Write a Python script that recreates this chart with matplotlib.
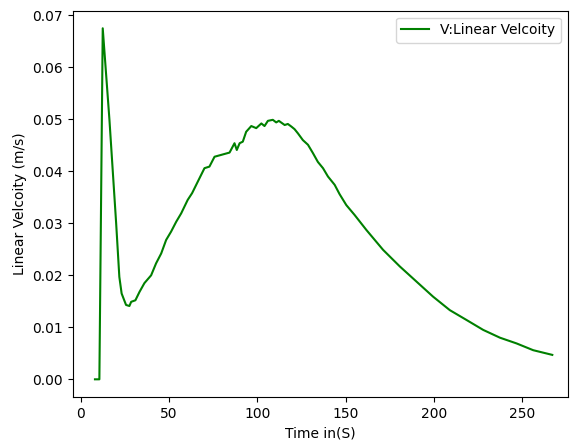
import numpy as np
import matplotlib
matplotlib.use("Agg")
import matplotlib.pyplot as plt

# time (s) and linear velocity (m/s)
time = [8, 10.5, 12.4, 16.2, 20.0, 21.8, 23.1, 25.6, 27.5, 28.5, 30.9, 33.2, 36.0,
        39.8, 42.6, 45.5, 48.3, 51.1, 54.0, 56.8, 60.5, 63.0, 66.2, 70.0, 72.8,
        75.7, 84.2, 87.0, 88.3, 89.9, 91.7, 93.6, 96.5, 99.3, 102.2, 104.0, 105.9,
        108.7, 110.6, 112.1, 115.4, 117.2, 119.2, 121.0, 122.9, 125.7, 128.6,
        131.4, 134.2, 137.1, 139.9, 143.7, 146.5, 150.3, 155.0, 161.7, 171.1,
        180.6, 190.0, 199.4, 208.9, 218.4, 227.8, 237.3, 246.7, 256.1, 266.9]
velocity = [0.0, 0.0, 0.0675, 0.0499, 0.0300, 0.0197, 0.0165, 0.0143, 0.0141,
            0.0149, 0.0152, 0.0168, 0.0185, 0.0200, 0.0223, 0.0242, 0.0268,
            0.0284, 0.0303, 0.0319, 0.0345, 0.0358, 0.0380, 0.0406, 0.0409,
            0.0428, 0.0436, 0.0454, 0.0441, 0.0454, 0.0457, 0.0476, 0.0487,
            0.0483, 0.0492, 0.0487, 0.0497, 0.0499, 0.0494, 0.0497, 0.0489,
            0.0491, 0.0486, 0.0481, 0.0473, 0.0460, 0.0451, 0.0435, 0.0418,
            0.0406, 0.0390, 0.0374, 0.0356, 0.0335, 0.0316, 0.0287, 0.0249,
            0.0217, 0.0188, 0.0159, 0.0133, 0.0114, 0.0095, 0.0080, 0.0069,
            0.0056, 0.0047]

fig = plt.figure(figsize=(5.7, 4.44), dpi=100)
ax = fig.add_axes([72.7 / 570, 1 - 397 / 444, (568 - 72.7) / 570, (397 - 10.6) / 444])

ax.plot(time, velocity, color='green', label='V:Linear Velcoity')
ax.set_xlim(-4.6, 275.8)
ax.set_ylim(-0.0034, 0.0709)
ax.set_xlabel('Time in(S)')
ax.set_ylabel('Linear Velcoity (m/s)')
ax.legend(loc='upper right')

fig.savefig('out.png', dpi=100)
